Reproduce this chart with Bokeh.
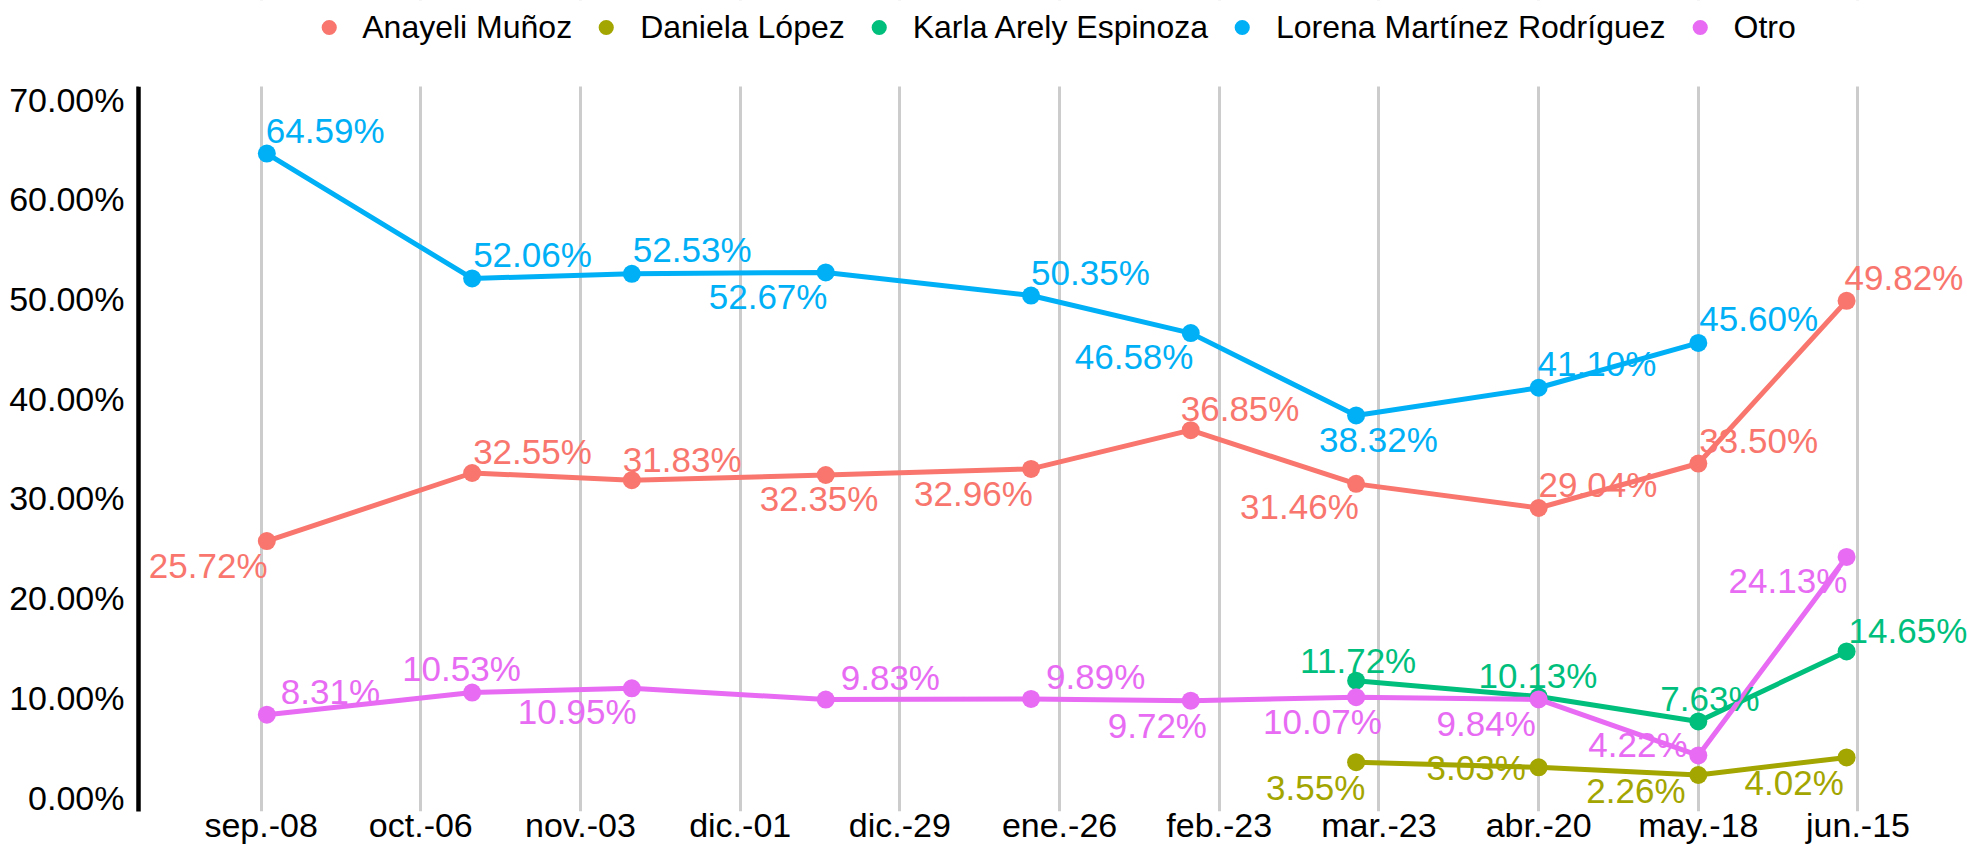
import pandas as pd
from bokeh.plotting import figure
from bokeh.models import (Range1d, FixedTicker, PrintfTickFormatter, Legend, LegendItem,
                          ColumnDataSource, BoxAnnotation)
from bokeh.embed import file_html
from bokeh.resources import INLINE
from bokeh.core.properties import value

# ---------------- data ----------------
dates = ["2020-09-09", "2020-10-15", "2020-11-12", "2020-12-16", "2021-01-21",
         "2021-02-18", "2021-03-19", "2021-04-20", "2021-05-18", "2021-06-13"]

tick_dates = ["2020-09-08", "2020-10-06", "2020-11-03", "2020-12-01", "2020-12-29",
              "2021-01-26", "2021-02-23", "2021-03-23", "2021-04-20", "2021-05-18", "2021-06-15"]
tick_labels = ["sep.-08", "oct.-06", "nov.-03", "dic.-01", "dic.-29",
               "ene.-26", "feb.-23", "mar.-23", "abr.-20", "may.-18", "jun.-15"]

names = ["Anayeli Muñoz", "Daniela López", "Karla Arely Espinoza",
         "Lorena Martínez Rodríguez", "Otro"]
colors = ["#F8766D", "#A3A500", "#00BF7D", "#00B0F6", "#E76BF3"]

anayeli = [25.72, 32.55, 31.83, 32.35, 32.96, 36.85, 31.46, 29.04, 33.50, 49.82]
daniela = [None, None, None, None, None, None, 3.55, 3.03, 2.26, 4.02]
karla = [None, None, None, None, None, None, 11.72, 10.13, 7.63, 14.65]
lorena = [64.59, 52.06, 52.53, 52.67, 50.35, 46.58, 38.32, 41.10, 45.60, None]
otro = [8.31, 10.53, 10.95, 9.83, 9.89, 9.72, 10.07, 9.84, 4.22, 24.13]

# label placement (pixel offsets of the label's left edge / vertical centre from the point)
anayeli_dx = [-118, 1, -9, -66, -117, -10, -116, 0, 1, -2]
anayeli_dy = [24, -22, -21, 24, 25, -22, 23, -23, -23, -23]
daniela_dx = [None] * 6 + [-90, -112, -112, -102]
daniela_dy = [None] * 6 + [25, 0, 15, 25]
karla_dx = [None] * 6 + [-56, -60, -38, 2]
karla_dy = [None] * 6 + [-20, -21, -23, -21]
lorena_dx = [-1, 1, 1, -117, 0, -116, -37, -1, 1, None]
lorena_dy = [-23, -24, -24, 24, -23, 23, 24, -24, -24, None]
otro_dx = [14, -70, -114, 15, 15, -83, -93, -102, -110, -118]
otro_dy = [-23, -24, 23, -22, -22, 25, 24, 24, -11, 24]

series = [anayeli, daniela, karla, lorena, otro]
offs_x = [anayeli_dx, daniela_dx, karla_dx, lorena_dx, otro_dx]
offs_y = [anayeli_dy, daniela_dy, karla_dy, lorena_dy, otro_dy]

# panel limits (the area above PANEL_TOP holds the legend)
Y_MIN, PANEL_TOP, Y_MAX = -1.40, 71.31, 79.94

# ---------------- figure ----------------
FONT = "Liberation Sans"
t0 = pd.Timestamp(tick_dates[0])


def day(s):
    return (pd.Timestamp(s) - t0).days


xs_all = [day(d) for d in dates]
ticks = [day(d) for d in tick_dates]

p = figure(width=1967, height=846, output_backend="svg", toolbar_location=None, title=None,
           x_range=Range1d(-21.5, 299.2), y_range=Range1d(Y_MIN, Y_MAX),
           min_border_left=138, min_border_right=0, min_border_top=0, min_border_bottom=0)
p.outline_line_color = None
p.background_fill_color = "white"

# axes
p.xaxis.ticker = FixedTicker(ticks=ticks)
p.xaxis.major_label_overrides = {t: lab for t, lab in zip(ticks, tick_labels)}
p.xaxis.axis_line_color = None
p.xaxis.major_tick_line_color = None
p.xaxis.minor_tick_line_color = None
p.xaxis.major_label_text_font = FONT
p.xaxis.major_label_text_font_size = "34px"
p.xaxis.major_label_text_color = "black"
p.xaxis.major_label_standoff = -12

p.yaxis.ticker = FixedTicker(ticks=[0, 10, 20, 30, 40, 50, 60, 70])
p.yaxis.formatter = PrintfTickFormatter(format="%.2f%%")
p.yaxis.bounds = (Y_MIN, PANEL_TOP)
p.yaxis.axis_line_color = "black"
p.yaxis.axis_line_width = 4.5
p.yaxis.major_tick_line_color = None
p.yaxis.minor_tick_line_color = None
p.yaxis.major_label_text_font = FONT
p.yaxis.major_label_text_font_size = "34px"
p.yaxis.major_label_text_color = "black"
p.yaxis.major_label_standoff = 8

p.xgrid.ticker = FixedTicker(ticks=ticks)
p.xgrid.grid_line_color = "#CCCCCC"
p.xgrid.grid_line_width = 3
p.ygrid.grid_line_color = None

sources = []
for vals, dxs, dys in zip(series, offs_x, offs_y):
    keep = [i for i, v in enumerate(vals) if v is not None]
    sources.append(ColumnDataSource(dict(
        x=[xs_all[i] for i in keep],
        y=[vals[i] for i in keep],
        text=["%.2f%%" % vals[i] for i in keep],
        dx=[dxs[i] for i in keep],
        dy=[dys[i] for i in keep],
    )))

for src, col in zip(sources, colors):
    p.line("x", "y", source=src, line_color=col, line_width=5)

point_renderers = []
for src, col in zip(sources, colors):
    r = p.scatter("x", "y", source=src, size=18, fill_color=col, line_color=col, line_width=0)
    point_renderers.append(r)

for src, col in zip(sources, colors):
    p.text("x", "y", text="text", source=src, x_offset="dx", y_offset="dy",
           text_align="left", text_baseline="middle", text_color=col,
           text_font=value(FONT), text_font_size="35px")

# white strip above the panel (legend area)
p.add_layout(BoxAnnotation(bottom=PANEL_TOP, fill_color="white", fill_alpha=1.0,
                           line_color=None))

items = [LegendItem(label=n, renderers=[r]) for n, r in zip(names, point_renderers)]
legend = Legend(items=items, orientation="horizontal", location="top_center",
                glyph_width=38, glyph_height=38, label_height=38, label_standoff=15,
                spacing=15, padding=0, margin=8, border_line_color=None,
                background_fill_alpha=0, label_text_font=FONT,
                label_text_font_size="32px", label_text_color="black")
p.add_layout(legend)

open("out.html", "w").write(file_html(p, INLINE))
